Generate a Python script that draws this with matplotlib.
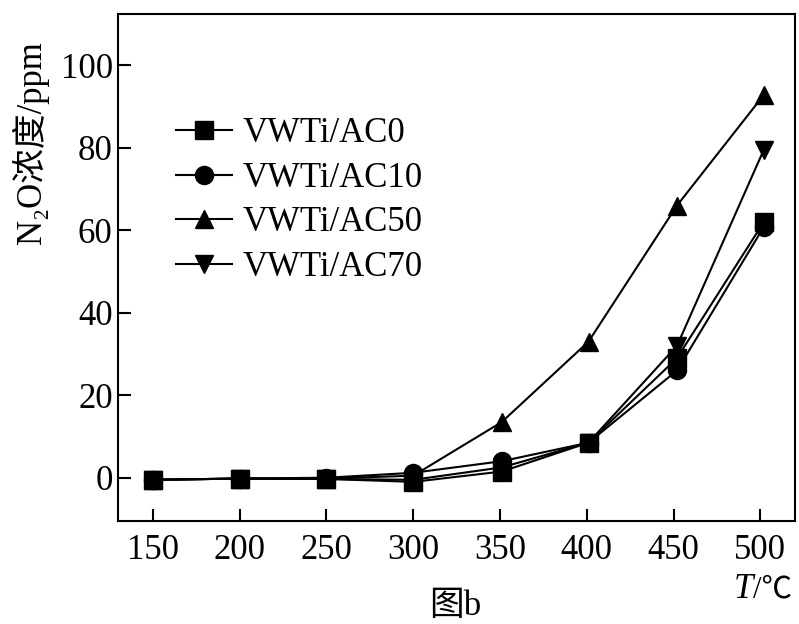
import matplotlib
matplotlib.use('Agg')
import matplotlib.pyplot as plt

# temperature (C)
temps = [150, 200, 250, 300, 351, 401, 452, 502]
ac0 = [-0.5, -0.2, -0.3, -1.0, 1.5, 8.5, 29.0, 62.0]
ac10 = [-0.5, -0.2, 0.0, 1.2, 4.0, 8.5, 26.0, 60.8]
ac50 = [-0.5, -0.2, -0.2, 0.5, 13.5, 33.0, 66.0, 92.8]
ac70 = [-0.5, -0.2, -0.3, -0.5, 2.5, 8.5, 32.0, 79.5]
labels = ['VWTi/AC0', 'VWTi/AC10', 'VWTi/AC50', 'VWTi/AC70']
markers = ['s', 'o', '^', 'v']
xticks = [150, 200, 250, 300, 350, 400, 450, 500]
yticks = [0, 20, 40, 60, 80, 100]

fonts = ['Liberation Serif', 'DejaVu Serif', 'Noto Sans CJK SC']
plt.rcParams['font.family'] = fonts
plt.rcParams['axes.linewidth'] = 1.5
fs = 25

fig = plt.figure(figsize=(7.99, 6.24), dpi=100)
ax = fig.add_axes([0.148, 0.165, 0.847, 0.813])

for ys, lab, mk in zip([ac0, ac10, ac50, ac70], labels, markers):
    ax.plot(temps, ys, color='black', lw=1.5, marker=mk, markersize=13,
            label=lab)

ax.set_xlim(130, 520)
ax.set_ylim(-10.5, 112.5)
ax.set_xticks(xticks)
ax.set_yticks(yticks)
ax.tick_params(direction='in', length=9, width=1.5, labelsize=fs, pad=4)
ax.tick_params(axis='x', pad=9)

ax.set_ylabel('N₂O浓度/ppm', fontsize=fs)
ax.yaxis.set_label_coords(-0.103, 0.745)

leg = ax.legend(loc='upper left', bbox_to_anchor=(0.06, 0.83), frameon=False,
                fontsize=fs, handlelength=1.6, handletextpad=0.3,
                labelspacing=0.33, borderpad=0)

fig.text(0.942, 0.055, 'T', fontsize=fs, style='italic', ha='right', va='center')
fig.text(0.942, 0.055, '/℃', fontsize=22, ha='left', va='center',
         family=['Liberation Serif', 'Noto Sans CJK SC'])
fig.text(0.57, 0.028, '图b', fontsize=fs, ha='center', va='center')

fig.savefig('out.png', dpi=100)
